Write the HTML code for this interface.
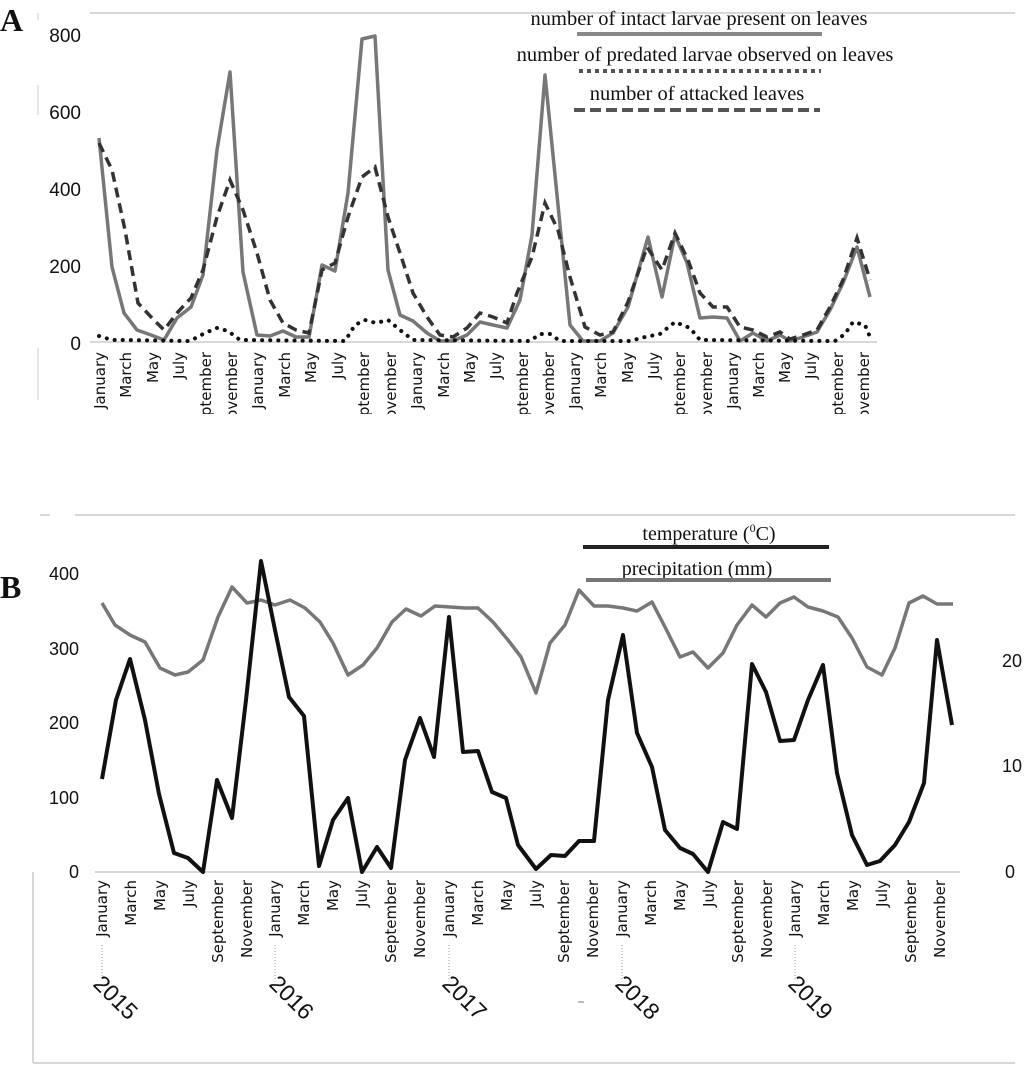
<!DOCTYPE html>
<html><head><meta charset="utf-8"><style>
html,body{margin:0;padding:0;background:#fff;}
svg{display:block;}
</style></head><body>
<svg width="1028" height="1067" viewBox="0 0 1028 1067" xmlns="http://www.w3.org/2000/svg">
<defs><clipPath id="ca"><rect x="0" y="345" width="1028" height="69"/></clipPath></defs>
<rect width="1028" height="1067" fill="#fff"/>
<!-- Panel A -->
<text x="0" y="31" font-family="Liberation Serif" font-weight="bold" font-size="32" fill="#111">A</text>
<line x1="90" y1="13" x2="1015" y2="13" stroke="#ccc" stroke-width="1.5"/>
<line x1="38" y1="13" x2="38" y2="20" stroke="#ccc"/>
<line x1="38" y1="85" x2="38" y2="115" stroke="#ccc"/>
<line x1="38" y1="348" x2="38" y2="400" stroke="#ccc"/>
<line x1="90" y1="342" x2="877" y2="342" stroke="#ccc" stroke-width="1.5"/>
<g font-family="Liberation Sans" font-size="19" fill="#111" text-anchor="end">
<text x="81" y="42">800</text><text x="81" y="119">600</text><text x="81" y="196">400</text><text x="81" y="273">200</text><text x="81" y="350">0</text>
</g>
<g font-family="DejaVu Sans" font-size="15" fill="#111" text-anchor="end" clip-path="url(#ca)">
<text transform="translate(105,352) rotate(-90)">January</text>
<text transform="translate(131,352) rotate(-90)">March</text>
<text transform="translate(158,352) rotate(-90)">May</text>
<text transform="translate(184,352) rotate(-90)">July</text>
<text transform="translate(211,352) rotate(-90)">September</text>
<text transform="translate(237,352) rotate(-90)">November</text>
<text transform="translate(263,352) rotate(-90)">January</text>
<text transform="translate(290,352) rotate(-90)">March</text>
<text transform="translate(316,352) rotate(-90)">May</text>
<text transform="translate(343,352) rotate(-90)">July</text>
<text transform="translate(369,352) rotate(-90)">September</text>
<text transform="translate(396,352) rotate(-90)">November</text>
<text transform="translate(422,352) rotate(-90)">January</text>
<text transform="translate(449,352) rotate(-90)">March</text>
<text transform="translate(475,352) rotate(-90)">May</text>
<text transform="translate(501,352) rotate(-90)">July</text>
<text transform="translate(528,352) rotate(-90)">September</text>
<text transform="translate(554,352) rotate(-90)">November</text>
<text transform="translate(580,352) rotate(-90)">January</text>
<text transform="translate(606,352) rotate(-90)">March</text>
<text transform="translate(633,352) rotate(-90)">May</text>
<text transform="translate(659,352) rotate(-90)">July</text>
<text transform="translate(685,352) rotate(-90)">September</text>
<text transform="translate(712,352) rotate(-90)">November</text>
<text transform="translate(738,352) rotate(-90)">January</text>
<text transform="translate(764,352) rotate(-90)">March</text>
<text transform="translate(790,352) rotate(-90)">May</text>
<text transform="translate(816,352) rotate(-90)">July</text>
<text transform="translate(843,352) rotate(-90)">September</text>
<text transform="translate(869,352) rotate(-90)">November</text>
</g>
<polyline fill="none" stroke="#777" stroke-width="3.5" stroke-linejoin="round" points="99,138 112,267 124,313 137,330 151,335 164,340 177,318 191,307 203,275 217,150 230,72 243,272 257,335 270,336 283,331 296,337 309,337 322,265 335,271 348,193 362,39 375,36 388,270 400,315 413,321 427,333 440,341 453,341 467,335 480,322 493,325 507,328 520,300 532,235 545,75 570,325 583,341 600,341 613,333 628,307 648,237 662,297 675,235 687,263 700,318 713,317 727,318 740,341 753,333 767,341 780,335 790,341 803,337 817,332 830,310 843,283 857,247 870,297"/>
<polyline fill="none" stroke="#333" stroke-width="3.5" stroke-dasharray="10,6" points="99,143 112,170 125,230 138,303 152,318 164,330 177,313 191,298 203,270 217,217 230,180 243,210 257,253 270,300 283,323 296,330 309,333 322,270 335,263 348,217 362,177 375,167 388,217 400,253 413,293 427,317 440,335 453,337 467,328 480,313 493,317 507,323 517,293 532,257 545,203 558,230 570,277 585,327 600,335 613,332 628,302 647,247 662,270 675,233 688,260 700,293 713,307 727,307 740,327 753,330 767,337 780,332 790,339 803,335 817,330 830,307 843,280 857,238 870,280"/>
<polyline fill="none" stroke="#111" stroke-width="4" stroke-dasharray="0.1,8" stroke-linecap="round" points="99,336 112,340 125,340 190,341 205,333 217,328 228,331 240,340 345,341 355,325 365,320 376,323 388,320 400,330 413,340 530,341 540,334 550,334 560,341 630,341 645,337 660,334 675,322 690,328 700,340 835,341 845,334 853,322 865,325 870,337"/>
<g font-family="Liberation Serif" font-size="20.5" fill="#111" text-anchor="middle">
<text x="699" y="25">number of intact larvae present on leaves</text>
<text x="705" y="61">number of predated larvae observed on leaves</text>
<text x="697" y="100">number of attacked leaves</text>
</g>
<line x1="577" y1="34" x2="822" y2="34" stroke="#888" stroke-width="4"/>
<line x1="579" y1="71" x2="821" y2="71" stroke="#555" stroke-width="4" stroke-dasharray="4,4"/>
<line x1="574" y1="110" x2="820" y2="110" stroke="#555" stroke-width="4" stroke-dasharray="11,5"/>

<!-- Panel B -->
<text x="0" y="598" font-family="Liberation Serif" font-weight="bold" font-size="32" fill="#111">B</text>
<line x1="75" y1="515" x2="1015" y2="515" stroke="#ccc" stroke-width="1.5"/>
<line x1="40" y1="515" x2="50" y2="515" stroke="#ccc" stroke-width="1.5"/>
<line x1="33" y1="872" x2="33" y2="1063" stroke="#ccc" stroke-width="1.5"/>
<line x1="33" y1="1063" x2="1015" y2="1063" stroke="#ccc" stroke-width="1.5"/>
<line x1="95" y1="872" x2="960" y2="872" stroke="#ccc" stroke-width="1.5"/>
<g font-family="Liberation Sans" font-size="18" fill="#111" text-anchor="end">
<text x="79" y="580">400</text><text x="79" y="655">300</text><text x="79" y="729">200</text><text x="79" y="804">100</text><text x="79" y="878">0</text>
</g>
<g font-family="Liberation Sans" font-size="18" fill="#111" text-anchor="start">
<text x="1002" y="667">20</text><text x="1002" y="772">10</text><text x="1005" y="878">0</text>
</g>
<g font-family="DejaVu Sans" font-size="15" fill="#111" text-anchor="end">
<text transform="translate(107,880) rotate(-90)">January</text>
<text transform="translate(136,880) rotate(-90)">March</text>
<text transform="translate(165,880) rotate(-90)">May</text>
<text transform="translate(194,880) rotate(-90)">July</text>
<text transform="translate(223,880) rotate(-90)">September</text>
<text transform="translate(252,880) rotate(-90)">November</text>
<text transform="translate(280,880) rotate(-90)">January</text>
<text transform="translate(309,880) rotate(-90)">March</text>
<text transform="translate(338,880) rotate(-90)">May</text>
<text transform="translate(367,880) rotate(-90)">July</text>
<text transform="translate(396,880) rotate(-90)">September</text>
<text transform="translate(425,880) rotate(-90)">November</text>
<text transform="translate(454,880) rotate(-90)">January</text>
<text transform="translate(483,880) rotate(-90)">March</text>
<text transform="translate(512,880) rotate(-90)">May</text>
<text transform="translate(541,880) rotate(-90)">July</text>
<text transform="translate(569,880) rotate(-90)">September</text>
<text transform="translate(598,880) rotate(-90)">November</text>
<text transform="translate(627,880) rotate(-90)">January</text>
<text transform="translate(656,880) rotate(-90)">March</text>
<text transform="translate(685,880) rotate(-90)">May</text>
<text transform="translate(714,880) rotate(-90)">July</text>
<text transform="translate(743,880) rotate(-90)">September</text>
<text transform="translate(772,880) rotate(-90)">November</text>
<text transform="translate(800,880) rotate(-90)">January</text>
<text transform="translate(829,880) rotate(-90)">March</text>
<text transform="translate(858,880) rotate(-90)">May</text>
<text transform="translate(887,880) rotate(-90)">July</text>
<text transform="translate(916,880) rotate(-90)">September</text>
<text transform="translate(945,880) rotate(-90)">November</text>
</g>
<g stroke="#999" stroke-width="1" stroke-dasharray="1,2">
<line x1="102" y1="945" x2="102" y2="980"/>
<line x1="275" y1="945" x2="275" y2="980"/>
<line x1="449" y1="945" x2="449" y2="980"/>
<line x1="622" y1="945" x2="622" y2="980"/>
<line x1="795" y1="945" x2="795" y2="980"/>
</g>
<g font-family="Liberation Sans" font-size="23" fill="#111">
<text transform="translate(92,985) rotate(45)">2015</text>
<text transform="translate(268,985) rotate(45)">2016</text>
<text transform="translate(441,985) rotate(45)">2017</text>
<text transform="translate(614,985) rotate(45)">2018</text>
<text transform="translate(787,985) rotate(45)">2019</text>
</g>
<line x1="578" y1="1002" x2="584" y2="1002" stroke="#777" stroke-width="1"/>
<polyline fill="none" stroke="#777" stroke-width="3.5" stroke-linejoin="round" points="102,603 115,625 130,635 145,642 160,668 175,675 188,672 203,660 218,617 232,587 247,603 261,600 275,605 290,600 305,608 320,622 333,643 348,675 363,665 377,648 392,622 406,609 421,616 435,606 450,607 465,608 478,608 493,622 508,640 521,657 536,693 550,643 565,625 579,590 594,606 608,606 623,608 637,611 652,602 665,627 680,657 693,652 708,668 723,653 737,625 752,605 766,617 780,603 794,597 808,607 823,611 838,617 852,638 867,667 882,675 895,648 909,603 923,596 937,604 953,604"/>
<polyline fill="none" stroke="#111" stroke-width="4" stroke-linejoin="round" points="102,779 116,700 130,659 145,720 159,794 174,853 188,858 203,872 217,780 232,818 246,700 261,561 275,630 289,697 304,716 319,866 333,820 348,798 362,872 377,847 391,868 405,760 420,718 434,757 449,617 463,752 478,751 492,792 506,798 518,845 536,869 551,855 565,856 579,841 594,841 608,700 623,635 637,733 652,767 665,830 680,848 693,854 708,872 723,822 737,829 752,664 766,692 780,741 794,740 808,700 823,665 837,773 852,835 867,865 880,861 895,845 909,822 924,783 937,640 952,725"/>
<g font-family="Liberation Serif" font-size="20" fill="#111" text-anchor="middle">
<text x="709" y="540">temperature (<tspan font-size="12" dy="-8">0</tspan><tspan dy="8">C)</tspan></text>
<text x="697" y="575">precipitation (mm)</text>
</g>
<line x1="583" y1="547" x2="829" y2="547" stroke="#222" stroke-width="4"/>
<line x1="586" y1="580" x2="831" y2="580" stroke="#777" stroke-width="4"/>
</svg>
</body></html>
